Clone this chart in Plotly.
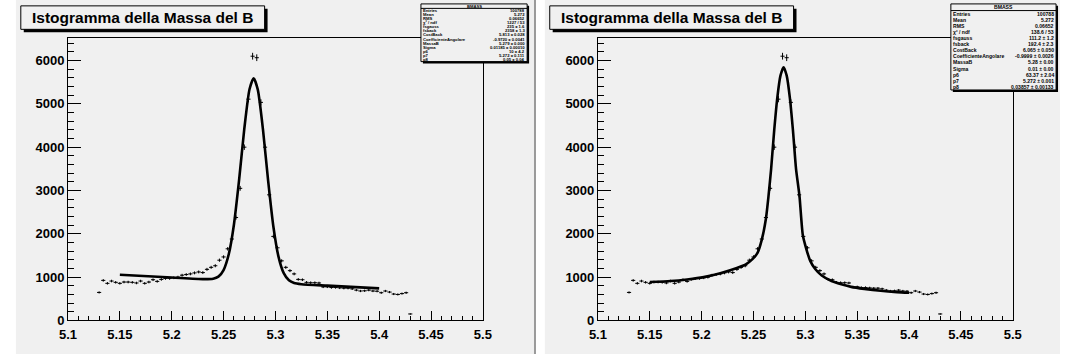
import numpy as np
import plotly.graph_objects as go

W, H = 1069, 362

# ---------------- data ----------------
hist_first_center = 5.130
hist_bin_width = 0.004
hist_counts = [
    647, 925, 857, 910, 880, 857, 887, 887, 880, 865,
    910, 857, 887, 940, 902, 947, 970, 970, 985, 1000,
    1045, 1060, 1075, 1098, 1120, 1105, 1180, 1226, 1263, 1391,
    1466, 1654, 1880, 2376, 3050, 4000, 5108, 6100, 6065, 5034,
    4000, 2900, 1940, 1677, 1376, 1226, 1150, 1075, 948, 940,
    880, 872, 872, 865, 775, 775, 760, 760, 752, 745,
    745, 730, 700, 680, 685, 700, 680, 675, 640, 680,
    655, 610, 600, 620, 640, 150,
]

# fit curve of the left panel
fit1_x = [5.150, 5.200, 5.230, 5.240, 5.245, 5.250, 5.255, 5.260, 5.265, 5.270,
          5.275, 5.279, 5.283, 5.288, 5.293, 5.298, 5.303, 5.308, 5.313, 5.318,
          5.325, 5.350, 5.400]
fit1_y = [1055, 992, 954, 963, 1011, 1164, 1528, 2216, 3249, 4427,
          5337, 5592, 5327, 4404, 3214, 2168, 1467, 1091, 926, 864,
          837, 803, 740]

# fit curve of the right panel
fit2_x = [5.150, 5.170, 5.186, 5.202, 5.218, 5.234, 5.243, 5.249, 5.254, 5.258,
          5.262, 5.2645, 5.267, 5.270, 5.273, 5.276, 5.279, 5.282, 5.285, 5.288,
          5.291, 5.2943, 5.2975, 5.3006, 5.3047, 5.3095, 5.3158, 5.3252, 5.3347,
          5.3442, 5.3568, 5.3726, 5.3883, 5.400]
fit2_y = [887, 910, 947, 1000, 1090, 1211, 1301, 1414, 1564, 1865,
          2354, 2880, 3500, 4400, 5150, 5650, 5846, 5650, 5150, 4400,
          3500, 2880, 1978, 1677, 1376, 1188, 1038, 910, 835,
          775, 729, 684, 654, 639]

x_tick_vals = [5.1, 5.15, 5.2, 5.25, 5.3, 5.35, 5.4, 5.45, 5.5]
x_tick_text = ["5.1", "5.15", "5.2", "5.25", "5.3", "5.35", "5.4", "5.45", "5.5"]
y_tick_vals = [0, 1000, 2000, 3000, 4000, 5000, 6000]
y_tick_text = ["0", "1000", "2000", "3000", "4000", "5000", "6000"]

title_text = "Istogramma della Massa del B"
stats_name = "BMASS"
stats1 = [
    ("Entries", "100788"), ("Mean", "5.272"), ("RMS", "0.06652"),
    ("χ² / ndf", "1227 / 53"), ("fsgauss", "235 ± 1.6"), ("fsback", "2358 ± 1.3"),
    ("CostBack", "5.813 ± 0.028"), ("CoefficienteAngolare", "-0.9720 ± 0.0041"),
    ("MassaB", "5.279 ± 0.000"), ("Sigma", "0.01185 ± 0.00010"),
    ("p6", "10 ± 4.2"), ("p7", "5.272 ± 0.111"), ("p8", "0.05 ± 0.04"),
]
stats2 = [
    ("Entries", "100788"), ("Mean", "5.272"), ("RMS", "0.06652"),
    ("χ² / ndf", "138.6 / 53"), ("fsgauss", "111.2 ± 1.2"), ("fsback", "192.4 ± 2.3"),
    ("CostBack", "6.065 ± 0.050"), ("CoefficienteAngolare", "-0.9999 ± 0.0026"),
    ("MassaB", "5.28 ± 0.00"), ("Sigma", "0.01 ± 0.00"),
    ("p6", "63.37 ± 2.04"), ("p7", "5.272 ± 0.001"), ("p8", "0.03857 ± 0.00133"),
]

# ---------------- helpers ----------------
centers = hist_first_center + hist_bin_width * np.arange(len(hist_counts))
counts = np.array(hist_counts, dtype=float)
errs = np.sqrt(counts)

BG = "#f0f0f0"
FONT = "Liberation Sans"


def fx(p):
    return p / W


def fy(p):
    return 1 - p / H


fig = go.Figure()

panels = [
    dict(xa="x", ya="y", fx_=fit1_x, fy_=fit1_y, pad=(7, 534),
         stats=stats1, sbox=(419, 527, 4, 63), sfont=4.2, title=(12, 260)),
    dict(xa="x2", ya="y2", fx_=fit2_x, fy_=fit2_y, pad=(545, 1069),
         stats=stats2, sbox=(958, 1065, 4, 92), sfont=5.1, title=(550, 798)),
]

shapes = []
annotations = []

for i, p in enumerate(panels):
    # pad background
    shapes.append(dict(type="rect", xref="paper", yref="paper",
                       x0=fx(p["pad"][0]), x1=fx(p["pad"][1]), y0=fy(362), y1=fy(0),
                       fillcolor=BG, line=dict(width=0), layer="below"))

    # histogram with error crosses
    fig.add_trace(go.Scatter(
        x=centers, y=counts, mode="markers",
        marker=dict(size=1, color="black"),
        error_x=dict(type="constant", value=hist_bin_width / 2, width=0, thickness=1, color="black"),
        error_y=dict(type="data", array=errs, width=0, thickness=1, color="black"),
        xaxis=p["xa"], yaxis=p["ya"], showlegend=False, hoverinfo="skip"))

    # fit curve
    fig.add_trace(go.Scatter(
        x=p["fx_"], y=p["fy_"], mode="lines",
        line=dict(color="black", width=2.6, shape="spline", smoothing=0.6),
        xaxis=p["xa"], yaxis=p["ya"], showlegend=False, hoverinfo="skip"))

    # title box with shadow
    tx0, tx1 = p["title"]
    shapes.append(dict(type="rect", xref="paper", yref="paper",
                       x0=fx(tx0 + 3), x1=fx(tx1 + 3), y0=fy(33), y1=fy(9),
                       fillcolor="black", line=dict(width=0)))
    shapes.append(dict(type="rect", xref="paper", yref="paper",
                       x0=fx(tx0), x1=fx(tx1), y0=fy(30), y1=fy(6),
                       fillcolor=BG, line=dict(color="black", width=1)))
    annotations.append(dict(xref="paper", yref="paper", x=fx((tx0 + tx1) / 2), y=fy(18),
                            text=title_text, showarrow=False, xanchor="center", yanchor="middle",
                            font=dict(family=FONT, size=15.5, color="black", weight="bold")))

    # stats box
    sx0, sx1, sy0, sy1 = p["sbox"]
    shapes.append(dict(type="rect", xref="paper", yref="paper",
                       x0=fx(sx0 + 2), x1=fx(sx1 + 2), y0=fy(sy1 + 2), y1=fy(sy0 + 2),
                       fillcolor="black", line=dict(width=0)))
    shapes.append(dict(type="rect", xref="paper", yref="paper",
                       x0=fx(sx0), x1=fx(sx1), y0=fy(sy1), y1=fy(sy0),
                       fillcolor=BG, line=dict(color="black", width=1)))
    n = len(p["stats"])
    hdr_h = (sy1 - sy0) / (n + 1.2)
    shapes.append(dict(type="line", xref="paper", yref="paper",
                       x0=fx(sx0), x1=fx(sx1), y0=fy(sy0 + hdr_h * 1.1), y1=fy(sy0 + hdr_h * 1.1),
                       line=dict(color="black", width=1)))
    sf = dict(family=FONT, size=p["sfont"], color="black", weight="bold")
    annotations.append(dict(xref="paper", yref="paper", x=fx((sx0 + sx1) / 2), y=fy(sy0 + hdr_h * 0.55),
                            text=stats_name, showarrow=False, xanchor="center", yanchor="middle", font=sf))
    for j, (k, v) in enumerate(p["stats"]):
        yy = sy0 + hdr_h * 1.1 + (j + 0.5) * (sy1 - sy0 - hdr_h * 1.1) / n
        annotations.append(dict(xref="paper", yref="paper", x=fx(sx0 + 1.5), y=fy(yy),
                                text=k, showarrow=False, xanchor="left", yanchor="middle", font=sf,
                                borderpad=0))
        annotations.append(dict(xref="paper", yref="paper", x=fx(sx1 - 1.5), y=fy(yy),
                                text=v, showarrow=False, xanchor="right", yanchor="middle", font=sf,
                                borderpad=0))

# pad separator
shapes.append(dict(type="line", xref="paper", yref="paper", x0=fx(535), x1=fx(535), y0=fy(362), y1=fy(0),
                   line=dict(color="#9a9a9a", width=2), layer="below"))

tickfont = dict(family=FONT, size=13, color="black", weight="bold")
xcommon = dict(range=[5.1, 5.5], tickmode="array", tickvals=x_tick_vals, ticktext=x_tick_text,
               ticks="inside", ticklen=9, tickcolor="black", tickwidth=1, ticklabelstandoff=2,
               minor=dict(dtick=0.01, tick0=5.1, ticks="inside", ticklen=4.5, tickcolor="black", tickwidth=1),
               showline=True, linecolor="black", linewidth=1, mirror=True,
               showgrid=False, zeroline=False, tickfont=tickfont, fixedrange=True)
ycommon = dict(range=[0, 6510], tickmode="array", tickvals=y_tick_vals, ticktext=y_tick_text,
               ticks="inside", ticklen=12.6, tickcolor="black", tickwidth=1,
               minor=dict(dtick=200, tick0=0, ticks="inside", ticklen=6.3, tickcolor="black", tickwidth=1),
               showline=True, linecolor="black", linewidth=1, mirror=True,
               showgrid=False, zeroline=False, tickfont=tickfont, fixedrange=True,
               domain=[1 - 327.7 / H, 1 - 39.3 / H])

fig.update_layout(
    width=W, height=H, autosize=False,
    margin=dict(l=0, r=0, t=0, b=0),
    paper_bgcolor="white", plot_bgcolor=BG,
    xaxis=dict(xcommon, domain=[fx(60), fx(482)], anchor="y"),
    yaxis=dict(ycommon, anchor="x"),
    xaxis2=dict(xcommon, domain=[fx(599), fx(1021)], anchor="y2"),
    yaxis2=dict(ycommon, anchor="x2"),
    shapes=shapes, annotations=annotations,
)

fig.write_html("out.html")
